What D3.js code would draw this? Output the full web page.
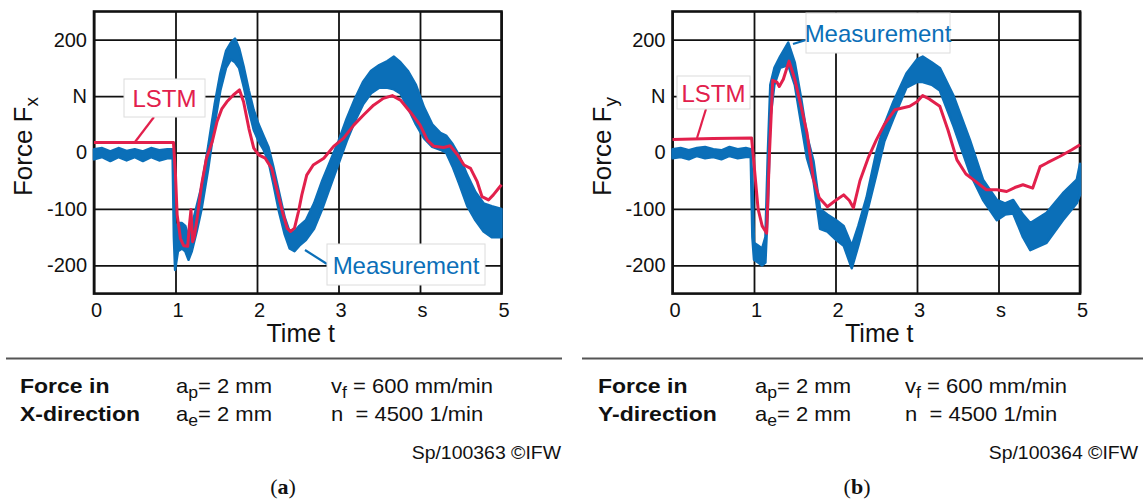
<!DOCTYPE html>
<html>
<head>
<meta charset="utf-8">
<script src="https://cdn.jsdelivr.net/npm/d3@7"></script>
<style>
  body { margin: 0; background: #fff; }
  svg text { font-family: "Liberation Sans", Arial, sans-serif; }
</style>
</head>
<body>
<div id="chart"></div>
<script>
// axis ticks
const timeTicks = [0, 1, 2, 3, 4, 5];
const timeLabels = ["0", "1", "2", "3", "s", "5"];
const forceTicks = [-200, -100, 0, 100, 200];
const forceLabels = ["-200", "-100", "0", "N", "200"];

// (a) force in X-direction
const lstmX_t = [0, 0.975, 1.0, 1.02, 1.06, 1.1, 1.15, 1.17, 1.19, 1.21, 1.23, 1.26, 1.32, 1.38, 1.45, 1.51, 1.57, 1.63, 1.71, 1.785, 1.835, 1.9, 1.96, 2.02, 2.1, 2.18, 2.24, 2.31, 2.37, 2.41, 2.46, 2.51, 2.55, 2.61, 2.69, 2.82, 2.94, 3.06, 3.19, 3.31, 3.43, 3.55, 3.66, 3.76, 3.88, 4.0, 4.09, 4.17, 4.29, 4.37, 4.46, 4.54, 4.62, 4.7, 4.76, 4.84, 4.9, 4.95, 5.0];
const lstmX_f = [18, 18, -40, -110, -152, -165, -166, -130, -101, -158, -150, -122, -57, -10, 19, 55, 78, 90, 102, 111, 90, 43, 8, -4, -10, -28, -63, -104, -134, -140, -134, -104, -75, -40, -22, -10, 11, 25, 49, 67, 84, 96, 101, 93, 72, 49, 22, 11, 9, 12, -4, -22, -28, -51, -78, -84, -75, -66, -57];

const measX_t = [0, 0.1, 0.2, 0.3, 0.4, 0.5, 0.6, 0.7, 0.8, 0.9, 0.965, 0.98, 0.995, 1.03, 1.08, 1.12, 1.16, 1.2, 1.26, 1.32, 1.4, 1.48, 1.55, 1.62, 1.68, 1.73, 1.78, 1.84, 1.9, 1.96, 2.02, 2.08, 2.14, 2.2, 2.27, 2.34, 2.4, 2.46, 2.52, 2.6, 2.7, 2.8, 2.9, 3.0, 3.1, 3.2, 3.3, 3.4, 3.5, 3.6, 3.68, 3.76, 3.85, 3.95, 4.05, 4.15, 4.25, 4.32, 4.4, 4.48, 4.58, 4.68, 4.78, 4.88, 5.0];
const measX_lo = [-12, -8, -15, -8, -14, -8, -15, -8, -14, -10, -10, -150, -208, -175, -170, -175, -190, -175, -140, -100, -30, 50, 110, 150, 165, 160, 150, 115, 75, 40, 20, 5, -15, -55, -105, -145, -170, -175, -165, -155, -135, -100, -60, -20, 20, 55, 85, 105, 115, 115, 112, 105, 80, 50, 25, 10, 5, 0, -25, -55, -95, -120, -140, -150, -150];
const measX_hi = [6, 8, 2, 8, 3, 6, 2, 8, 4, 6, 6, -60, -140, -125, -125, -130, -150, -130, -95, -60, 10, 85, 140, 180, 195, 202, 185, 150, 110, 75, 50, 30, 10, -25, -70, -115, -140, -140, -130, -120, -90, -50, -15, 20, 60, 95, 125, 145, 155, 162, 170, 160, 145, 120, 80, 50, 35, 30, 15, -5, -40, -70, -90, -95, -100];

// (b) force in Y-direction
const lstmY_t = [0, 0.5, 0.97, 1.0, 1.05, 1.1, 1.155, 1.19, 1.23, 1.28, 1.31, 1.36, 1.43, 1.5, 1.58, 1.65, 1.73, 1.8, 1.9, 2.0, 2.1, 2.17, 2.22, 2.3, 2.4, 2.5, 2.6, 2.73, 2.91, 3.0, 3.07, 3.15, 3.28, 3.38, 3.49, 3.6, 3.69, 3.85, 3.98, 4.1, 4.2, 4.3, 4.42, 4.51, 4.6, 4.75, 4.9, 5.0];
const lstmY_f = [23, 25, 26, -20, -100, -130, -143, 0, 128, 125, 117, 130, 162, 130, 80, 35, -48, -80, -96, -85, -75, -85, -98, -50, -10, 22, 50, 76, 82, 90, 101, 95, 82, 40, -13, -38, -48, -66, -66, -69, -62, -57, -63, -25, -18, -7, 5, 14];

const measY_t = [0, 0.1, 0.2, 0.3, 0.4, 0.5, 0.6, 0.7, 0.8, 0.9, 0.96, 0.98, 1.0, 1.05, 1.1, 1.14, 1.17, 1.2, 1.25, 1.32, 1.42, 1.5, 1.58, 1.65, 1.73, 1.81, 1.9, 2.01, 2.1, 2.2, 2.28, 2.38, 2.5, 2.6, 2.71, 2.87, 3.0, 3.07, 3.18, 3.28, 3.45, 3.65, 3.81, 3.98, 4.08, 4.18, 4.3, 4.39, 4.59, 4.79, 4.96, 5.0];
const measY_lo = [-10, -8, -12, -6, -10, -8, -12, -6, -10, -8, -8, -150, -190, -195, -200, -195, -100, 60, 120, 150, 155, 120, 50, -10, -50, -135, -140, -155, -165, -205, -165, -110, -40, 20, 60, 115, 125, 125, 120, 110, 46, -37, -84, -120, -110, -108, -150, -173, -160, -120, -90, -75];
const measY_hi = [6, 8, 4, 8, 10, 6, 4, 10, 6, 8, 6, -50, -160, -165, -170, -150, 0, 120, 150, 170, 195, 160, 95, 30, -15, -100, -110, -120, -130, -165, -130, -80, 0, 50, 90, 140, 165, 170, 160, 150, 100, 22, -48, -84, -90, -84, -110, -125, -107, -72, -48, -20];

const panels = [
  {
    left: 94, right: 501.5, yTitle: "x",
    lstm: lstmX_t.map((t, i) => [t, lstmX_f[i]]),
    meas: measX_t.map((t, i) => [t, measX_lo[i], measX_hi[i]]),
    lstmBox: { x: 124, y: 79, w: 81, h: 38, lead: [[154, 117], [135, 142]] },
    measBox: { x: 327, y: 244, w: 158, h: 41, lead: [[327, 264], [305, 250]] },
    titleX: 32, sepX: [6, 562],
    info: { dir: "X-direction", code: "Sp/100363 ©IFW", x0: 20, ap: 176, vf: 331, codeRight: 561, tag: "a", tagX: 283 }
  },
  {
    left: 672.5, right: 1080, yTitle: "y",
    lstm: lstmY_t.map((t, i) => [t, lstmY_f[i]]),
    meas: measY_t.map((t, i) => [t, measY_lo[i], measY_hi[i]]),
    lstmBox: { x: 677, y: 76, w: 73, h: 33, lead: [[706, 109], [697, 138]] },
    measBox: { x: 806, y: 13, w: 144, h: 40, lead: [[806, 40], [793, 44]] },
    titleX: 611, sepX: [582, 1143],
    info: { dir: "Y-direction", code: "Sp/100364 ©IFW", x0: 598, ap: 755, vf: 905, codeRight: 1138, tag: "b", tagX: 857 }
  }
];

const W = 1143, H = 501;
const plotTop = 11.5, plotBottom = 293.6;
const blue = "#0b6fb8", red = "#e2204c";

const svg = d3.select("#chart").append("svg")
  .attr("width", W).attr("height", H);

panels.forEach(p => {
  const x = d3.scaleLinear().domain([0, 5]).range([p.left, p.right]);
  const y = d3.scaleLinear().domain([-250, 250]).range([plotBottom, plotTop]);
  const g = svg.append("g");

  // grid via axes
  const yAxis = d3.axisLeft(y)
    .tickValues(forceTicks)
    .tickSize(-(p.right - p.left))
    .tickPadding(7)
    .tickFormat((d, i) => forceLabels[i]);
  const ya = g.append("g").attr("transform", `translate(${p.left},0)`).call(yAxis);

  const xAxis = d3.axisBottom(x)
    .tickValues(timeTicks)
    .tickSize(-(plotBottom - plotTop))
    .tickPadding(9)
    .tickFormat((d, i) => timeLabels[i]);
  const xa = g.append("g").attr("transform", `translate(0,${plotBottom})`).call(xAxis);

  [ya, xa].forEach(a => {
    a.select(".domain").remove();
    a.selectAll(".tick line").attr("stroke", "#111").attr("stroke-width", 1.8);
    a.selectAll(".tick text").attr("fill", "#111").style("font-size", "20px")
      .style("font-family", "'Liberation Sans', Arial, sans-serif");
  });
  xa.selectAll(".tick text").attr("dx", 2);

  g.append("rect")
    .attr("x", p.left).attr("y", plotTop)
    .attr("width", p.right - p.left).attr("height", plotBottom - plotTop)
    .attr("fill", "none").attr("stroke", "#111").attr("stroke-width", 2.6);

  // measurement band
  const area = d3.area()
    .x(d => x(d[0])).y0(d => y(d[1])).y1(d => y(d[2]));
  g.append("path").datum(p.meas)
    .attr("d", area)
    .attr("fill", blue).attr("stroke", blue)
    .attr("stroke-width", 2.5).attr("stroke-linejoin", "round");

  // LSTM prediction
  const line = d3.line().x(d => x(d[0])).y(d => y(d[1]));
  g.append("path").datum(p.lstm)
    .attr("d", line)
    .attr("fill", "none").attr("stroke", red)
    .attr("stroke-width", 3).attr("stroke-linejoin", "round");

  // label boxes
  function labelBox(b, txt, col) {
    g.append("line")
      .attr("x1", b.lead[0][0]).attr("y1", b.lead[0][1])
      .attr("x2", b.lead[1][0]).attr("y2", b.lead[1][1])
      .attr("stroke", col).attr("stroke-width", 2.2);
    g.append("rect")
      .attr("x", b.x).attr("y", b.y).attr("width", b.w).attr("height", b.h)
      .attr("fill", "#fff").attr("stroke", "#dcdcdc").attr("stroke-width", 1);
    g.append("text")
      .attr("x", b.x + b.w / 2).attr("y", b.y + b.h / 2 + 9)
      .attr("text-anchor", "middle")
      .attr("fill", col).style("font-size", "24px")
      .text(txt);
  }
  labelBox(p.lstmBox, "LSTM", red);
  labelBox(p.measBox, "Measurement", blue);

  // axis titles
  g.append("text")
    .attr("x", (p.left + p.right) / 2 + 3).attr("y", 342)
    .attr("text-anchor", "middle").style("font-size", "25px").attr("fill", "#111")
    .text("Time t");
  const yt = g.append("text")
    .attr("transform", `translate(${p.titleX},${(plotTop + plotBottom) / 2 - 6}) rotate(-90)`)
    .attr("text-anchor", "middle").style("font-size", "26px").attr("fill", "#111");
  yt.append("tspan").text("Force F");
  yt.append("tspan").attr("dy", 6).style("font-size", "19px").text(p.yTitle);

  // separator
  g.append("line")
    .attr("x1", p.sepX[0]).attr("x2", p.sepX[1])
    .attr("y1", 358.5).attr("y2", 358.5)
    .attr("stroke", "#555").attr("stroke-width", 2);

  // info block
  const inf = p.info;
  const fs = "20px";
  const bold = (tx, yy) => g.append("text")
    .attr("transform", `translate(${inf.x0},${yy}) scale(1.15,1)`)
    .style("font-size", fs).style("font-weight", "bold").attr("fill", "#111").text(tx);
  bold("Force in", 393);
  bold(inf.dir, 421);

  const param = (xx, yy, base, sub, rest) => {
    const t = g.append("text")
      .attr("transform", `translate(${xx},${yy}) scale(1.1,1)`)
      .style("font-size", fs).attr("fill", "#111");
    t.append("tspan").text(base);
    t.append("tspan").attr("dy", 5).style("font-size", "16px").text(sub);
    t.append("tspan").attr("dy", -5).text(rest);
  };
  param(inf.ap, 393, "a", "p", "= 2 mm");
  param(inf.ap, 421, "a", "e", "= 2 mm");
  param(inf.vf, 393, "v", "f", " = 600 mm/min");
  g.append("text")
    .attr("transform", `translate(${inf.vf},421) scale(1.1,1)`)
    .style("font-size", fs).attr("fill", "#111").attr("xml:space", "preserve")
    .text("n  = 4500 1/min");

  g.append("text")
    .attr("transform", `translate(${inf.codeRight},459) scale(1.08,1)`)
    .attr("text-anchor", "end").style("font-size", "18px").attr("fill", "#111")
    .text(inf.code);

  const tag = g.append("text")
    .attr("x", inf.tagX).attr("y", 494).attr("text-anchor", "middle")
    .style("font-family", "'Liberation Serif', 'Times New Roman', serif")
    .style("font-size", "22px").attr("fill", "#111");
  tag.append("tspan").text("(");
  tag.append("tspan").style("font-weight", "bold").text(inf.tag);
  tag.append("tspan").text(")");
});
</script>
</body>
</html>
